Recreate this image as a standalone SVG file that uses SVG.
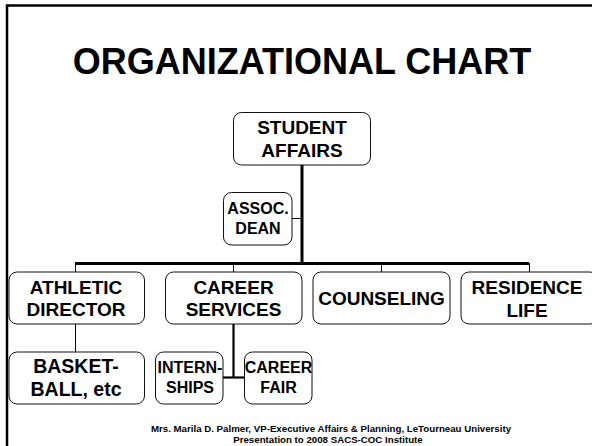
<svg xmlns="http://www.w3.org/2000/svg" width="592" height="446" viewBox="0 0 592 446">
  <style>
    text { font-family: "Liberation Sans", Arial, Helvetica, sans-serif; font-weight: bold; fill: #000; text-anchor: middle; }
    .title { font-size: 36px; }
    .lg { font-size: 19px; }
    .sm { font-size: 16px; }
    .foot { font-size: 9.7px; }
    .box { fill: #fff; stroke: #111; stroke-width: 1; }
    .thick { stroke: #000; stroke-width: 3; fill: none; }
    .mid { stroke: #000; stroke-width: 2.2; fill: none; }
    .thin { stroke: #000; stroke-width: 1; fill: none; }
  </style>
  <rect width="592" height="446" fill="#fff"/>
  <!-- slide frame (top and left edges) -->
  <path d="M7,446 V5.5 H592" fill="none" stroke="#000" stroke-width="2.5"/>
  <text class="title" x="302" y="74">ORGANIZATIONAL CHART</text>

  <g id="connectors">
    <path class="thick" d="M302,165 V263.5"/>
    <path class="thick" d="M75,263.5 H529"/>
    <path class="thin" d="M75.5,263 V272 M233.5,263 V272 M381.5,263 V272 M529.5,263 V272"/>
    <path class="thin" d="M292,218.5 H302"/>
    <path class="thin" d="M75.5,324 V352"/>
    <path class="mid" d="M233.5,324 V377.5"/>
    <path class="mid" d="M223,377.5 H244"/>
  </g>

  <g id="student-affairs">
    <rect class="box" x="233.5" y="112.5" width="137" height="52.5" rx="8"/>
    <text class="lg" x="302" y="134">STUDENT</text>
    <text class="lg" x="302" y="157">AFFAIRS</text>
  </g>
  <g id="assoc-dean">
    <rect class="box" x="223.5" y="192.5" width="68.5" height="52.5" rx="8"/>
    <text class="sm" x="258" y="214">ASSOC.</text>
    <text class="sm" x="258" y="234">DEAN</text>
  </g>
  <g id="athletic-director">
    <rect class="box" x="9" y="272" width="135.5" height="52" rx="8"/>
    <text class="lg" x="76" y="294">ATHLETIC</text>
    <text class="lg" x="76" y="316">DIRECTOR</text>
  </g>
  <g id="career-services">
    <rect class="box" x="165.5" y="272" width="136.5" height="52" rx="8"/>
    <text class="lg" x="233.5" y="294">CAREER</text>
    <text class="lg" x="233.5" y="316">SERVICES</text>
  </g>
  <g id="counseling">
    <rect class="box" x="313" y="272" width="137" height="52" rx="8"/>
    <text class="lg" x="381.5" y="305">COUNSELING</text>
  </g>
  <g id="residence-life">
    <rect class="box" x="461" y="272" width="137" height="52" rx="8"/>
    <text class="lg" x="527" y="294">RESIDENCE</text>
    <text class="lg" x="527" y="317">LIFE</text>
  </g>
  <g id="basketball">
    <rect class="box" x="9" y="352" width="135.5" height="52" rx="8"/>
    <text class="lg" x="76" y="373" style="font-size:19.5px">BASKET-</text>
    <text class="lg" x="76" y="396" style="font-size:19.5px">BALL, etc</text>
  </g>
  <g id="internships">
    <rect class="box" x="155.5" y="352" width="67.5" height="52" rx="8"/>
    <text class="sm" x="190" y="373">INTERN-</text>
    <text class="sm" x="190" y="393">SHIPS</text>
  </g>
  <g id="career-fair">
    <rect class="box" x="244.5" y="352" width="67.5" height="52" rx="8"/>
    <text class="sm" x="278.5" y="373">CAREER</text>
    <text class="sm" x="278.5" y="393">FAIR</text>
  </g>

  <text class="foot" x="331" y="432">Mrs. Marila D. Palmer, VP-Executive Affairs &amp; Planning, LeTourneau University</text>
  <text class="foot" x="328" y="443">Presentation to 2008 SACS-COC Institute</text>
</svg>
